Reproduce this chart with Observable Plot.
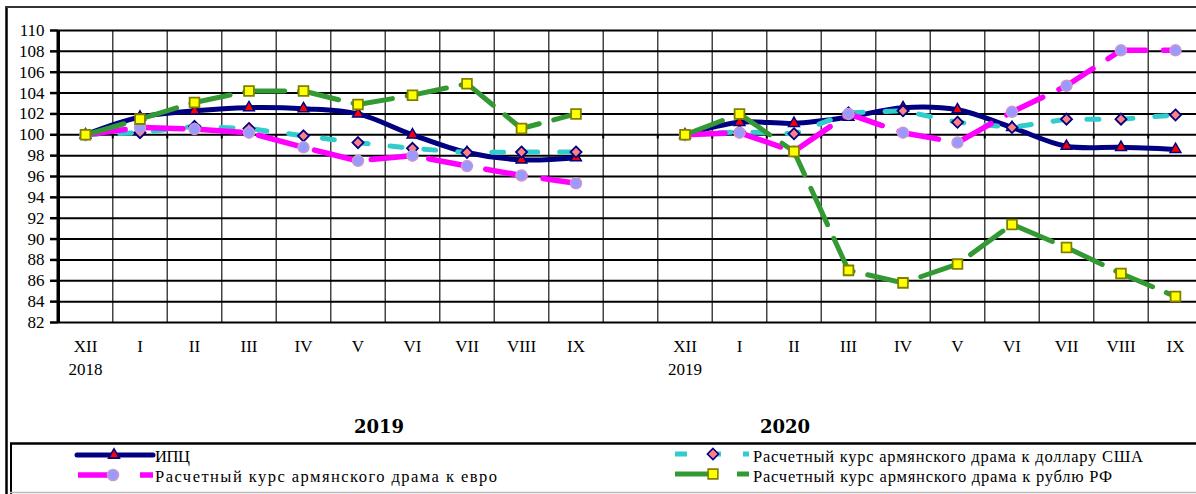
<!DOCTYPE html>
<html><head><meta charset="utf-8">
<script src="https://cdn.jsdelivr.net/npm/d3@7"></script>
<script src="https://cdn.jsdelivr.net/npm/@observablehq/plot@0.6"></script>
<style>
body{margin:0;background:#fff;}
#wrap{position:relative;width:1196px;height:494px;overflow:hidden;background:#fff;}
#chart{position:absolute;left:0;top:0;}
#overlay{position:absolute;left:0;top:0;}
</style></head>
<body><div id="wrap"><div id="chart"></div><svg id="overlay" width="1196" height="494"></svg></div>
<script>
// ---- data ----
const months = ["XII","I","II","III","IV","V","VI","VII","VIII","IX"];
const startYears = ["2018","2019"];
const periodTitles = ["2019","2020"];
const yTicks = [82,84,86,88,90,92,94,96,98,100,102,104,106,108,110];

const cpi2019 = [100,101.7,102.3,102.6,102.5,102.0,100.0,98.3,97.6,97.8];
const cpi2020 = [100,101.2,101.1,101.7,102.6,102.4,100.7,98.9,98.8,98.6];
const usd2019 = [100,100.2,100.8,100.6,99.9,99.25,98.7,98.3,98.35,98.35];
const usd2020 = [100,100.3,100.1,102.1,102.3,101.2,100.7,101.5,101.5,101.9];
const eur2019 = [100,100.7,100.55,100.2,98.8,97.5,98.0,97.0,96.1,95.35];
const eur2020 = [100,100.2,98.4,102.0,100.2,99.25,102.2,104.7,108.1,108.1];
const rub2019 = [100,101.5,103.1,104.2,104.2,102.9,103.8,104.9,100.6,102.0];
const rub2020 = [100,102.0,98.4,87.0,85.8,87.6,91.4,89.2,86.7,84.5];

const seriesNames = ["ИПЦ","Расчетный курс армянского драма к доллару США","Расчетный курс армянского драма к евро","Расчетный курс армянского драма к рублю РФ"];

// ---- tables built from arrays ----
const PER = months.length + 1; // slot count per period incl. gap
function build(a, b){
  const out = [];
  [a, b].forEach((arr, p) => arr.forEach((v, j) => out.push({i: p*PER + j, v, seg: p})));
  return out;
}
const cpi = build(cpi2019, cpi2020);
const usd = build(usd2019, usd2020);
const eur = build(eur2019, eur2020);
const rub = build(rub2019, rub2020);

const monthRows = [];
[0,1].forEach(p => months.forEach((m, j) => monthRows.push({i: p*PER + j, m})));
const yearRows = startYears.map((y, p) => ({i: p*PER, y}));
const nSlots = 2*PER - 1;
const bounds = d3.range(0, nSlots - 1).map(k => k + 0.5);

const W = 1196, H = 400;
const chart = Plot.plot({
  width: W, height: H,
  marginTop: 30, marginBottom: 78, marginLeft: 58, marginRight: 0,
  style: {fontFamily: "'Liberation Serif', serif", fontSize: "17px", background: "transparent", overflow: "visible", color: "#000"},
  x: {domain: [-0.5, nSlots - 0.5], range: [57.75, 57.75 + 54.5*nSlots], axis: null, label: null},
  y: {domain: [82, 110], range: [322, 30], axis: null, label: null},
  marks: [
    Plot.ruleX(bounds, {stroke: "#444", strokeWidth: 1.5}),
    Plot.ruleY(yTicks, {stroke: "#000", strokeWidth: 2}),
    Plot.ruleX(bounds, {y1: 100, y2: 99.6, stroke: "#000", strokeWidth: 2}),
    Plot.axisY(yTicks, {tickSize: 8, tickPadding: 6, strokeWidth: 2.5, fontSize: 17, tickFormat: d => d, label: null}),
    Plot.ruleX([-0.5], {stroke: "#000", strokeWidth: 3.5}),
    Plot.text(monthRows, {x: "i", text: "m", frameAnchor: "bottom", dy: 29, fontSize: 17}),
    Plot.text(yearRows, {x: "i", text: "y", frameAnchor: "bottom", dy: 52, fontSize: 17}),
    // CPI
    Plot.line(cpi, {x: "i", y: "v", z: "seg", stroke: "#000080", strokeWidth: 5, curve: "catmull-rom"}),
    Plot.dot(cpi, {x: "i", y: "v", symbol: "triangle", r: 4, fill: "#ff0000", stroke: "#000080", strokeWidth: 1.5}),
    // USD
    Plot.line(usd, {x: "i", y: "v", z: "seg", stroke: "#33cccc", strokeWidth: 5, strokeDasharray: "12,22"}),
    Plot.dot(usd, {x: "i", y: "v", symbol: "diamond2", r: 5, fill: "#ff8080", stroke: "#000080", strokeWidth: 1.8}),
    // EUR
    Plot.line(eur, {x: "i", y: "v", z: "seg", stroke: "#ff00ff", strokeWidth: 5.5, strokeDasharray: "40,18"}),
    Plot.dot(eur, {x: "i", y: "v", symbol: "circle", r: 5.5, fill: "#9999ff", stroke: "#cc99cc", strokeWidth: 1.5}),
    // RUB
    Plot.line(rub, {x: "i", y: "v", z: "seg", stroke: "#339933", strokeWidth: 5, strokeDasharray: "40,15"}),
    Plot.dot(rub, {x: "i", y: "v", symbol: "square", r: 5.5, fill: "#ffff00", stroke: "#808000", strokeWidth: 1.8})
  ]
});
document.getElementById("chart").appendChild(chart);

// ---- overlay: frame, period titles, legend ----
const svg = d3.select("#overlay");
svg.append("line").attr("x1", 6.5).attr("x2", 6.5).attr("y1", 6).attr("y2", 494).attr("stroke", "#000").attr("stroke-width", 2.5);
svg.append("line").attr("x1", 6).attr("x2", 1196).attr("y1", 7).attr("y2", 7).attr("stroke", "#333").attr("stroke-width", 2);
// legend box
svg.append("line").attr("x1", 10).attr("x2", 1196).attr("y1", 443.5).attr("y2", 443.5).attr("stroke", "#000").attr("stroke-width", 2.5);
svg.append("line").attr("x1", 11).attr("x2", 11).attr("y1", 443).attr("y2", 494).attr("stroke", "#000").attr("stroke-width", 2);
svg.append("line").attr("x1", 10).attr("x2", 1196).attr("y1", 492.5).attr("y2", 492.5).attr("stroke", "#bbb").attr("stroke-width", 1.5);

// period titles
[[periodTitles[0], 379], [periodTitles[1], 785]].forEach(([t, x]) => {
  svg.append("text").attr("x", x).attr("y", 433).attr("text-anchor", "middle")
    .attr("font-family", "'DejaVu Serif', serif").attr("font-weight", "bold").attr("font-size", 18).text(t);
});

const legendItems = [
  {name: seriesNames[0], x0: 77, x1: 153, y: 455, tx: 155, ty: 462, tl: 35, stroke: "#000080", sw: 5, dash: null, cap: "round",
   sym: d3.symbolTriangle, r: 4, fill: "#ff0000", sStroke: "#000080", mx: 114},
  {name: seriesNames[2], x0: 78, x1: 153, y: 475, tx: 155, ty: 482, tl: 342, stroke: "#ff00ff", sw: 5.5, dash: "40,22", cap: "butt",
   sym: d3.symbolCircle, r: 5.5, fill: "#9999ff", sStroke: "#cc99cc", mx: 113},
  {name: seriesNames[1], x0: 675, x1: 749, y: 454, tx: 753, ty: 462, tl: 390, stroke: "#33cccc", sw: 5, dash: "12,22", cap: "butt",
   sym: d3.symbolDiamond2, r: 5, fill: "#ff8080", sStroke: "#000080", mx: 713},
  {name: seriesNames[3], x0: 675, x1: 749, y: 474, tx: 753, ty: 482, tl: 359, stroke: "#339933", sw: 5, dash: "40,22", cap: "butt",
   sym: d3.symbolSquare, r: 5.5, fill: "#ffff00", sStroke: "#808000", mx: 713}
];
legendItems.forEach(it => {
  const l = svg.append("line").attr("x1", it.x0).attr("x2", it.x1).attr("y1", it.y).attr("y2", it.y)
    .attr("stroke", it.stroke).attr("stroke-width", it.sw).attr("stroke-linecap", it.cap);
  if (it.dash) l.attr("stroke-dasharray", it.dash);
  svg.append("path").attr("d", d3.symbol(it.sym, Math.PI*it.r*it.r)())
    .attr("transform", `translate(${it.mx},${it.y})`).attr("fill", it.fill).attr("stroke", it.sStroke).attr("stroke-width", 1.6);
  svg.append("text").attr("x", it.tx).attr("y", it.ty).attr("font-family", "'Liberation Serif', serif").attr("font-size", 16.5)
    .attr("textLength", it.tl).attr("lengthAdjust", "spacing").text(it.name);
});
</script>
</body></html>
